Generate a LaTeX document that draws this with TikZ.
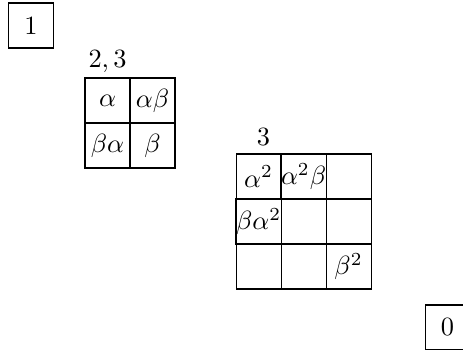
\documentclass[tikz,border=0pt]{standalone}
\usepackage{amsmath}
\usetikzlibrary{positioning}
\tikzset{cell/.style={draw,minimum size=0.6cm,inner sep=0pt}}

\begin{document}
\begin{tikzpicture}[x=1cm,y=1cm]
      \useasboundingbox (0,0) rectangle (6.173,4.653);
      \node[cell] (one) at (0.413,4.313) {$1$};
      % two by two block
      \node[anchor=base west,inner sep=0pt] (lbltwo) at (1.173,3.747) {$2,3$};
      \node[cell] (pa) at (1.433,3.313) {$\alpha$};
      \node[cell] (pab) at (2.033,3.313) {$\alpha\beta$};
      \node[cell] (pba) at (1.433,2.713) {$\beta\alpha$};
      \node[cell] (pb) at (2.033,2.713) {$\beta$};
      % three by three block
      \node[anchor=base west,inner sep=0pt] (lblthree) at (3.417,2.707) {$3$};
      \node[cell] (qaa) at (3.447,2.300) {$\alpha^2$};
      \node[cell] (qaab) at (4.047,2.300) {$\alpha^2\beta$};
      \node[cell] (q13) at (4.647,2.300) {};
      \node[cell] (qbaa) at (3.447,1.700) {$\beta\alpha^2$};
      \node[cell] (q22) at (4.047,1.700) {};
      \node[cell] (q23) at (4.647,1.700) {};
      \node[cell] (q31) at (3.447,1.100) {};
      \node[cell] (q32) at (4.047,1.100) {};
      \node[cell] (qbb) at (4.647,1.100) {$\beta^2$};
      \node[cell] (zero) at (5.967,0.287) {$0$};
    \end{tikzpicture}
\end{document}
